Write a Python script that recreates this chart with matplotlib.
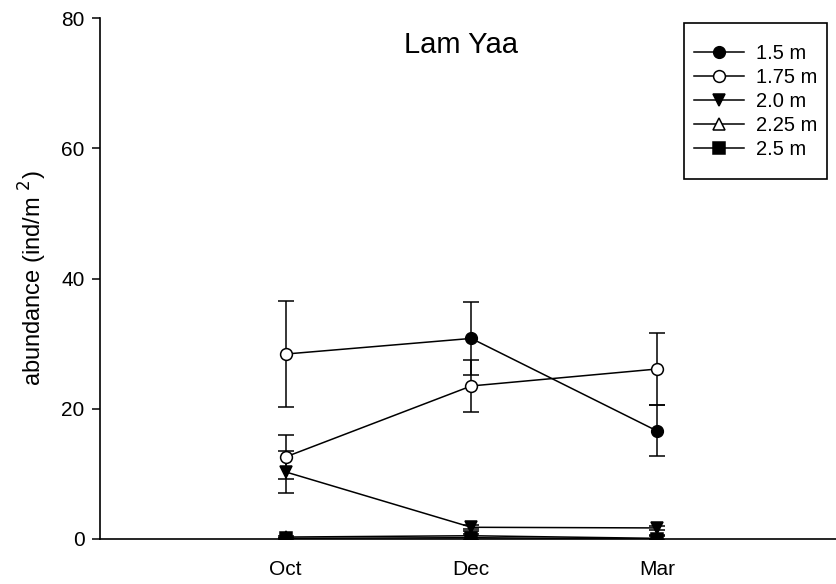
import numpy as np
import matplotlib
matplotlib.use('Agg')
import matplotlib.pyplot as plt
from matplotlib.patches import Rectangle

# sampling months and mean abundance per depth (ind/m2), with error bars
months = ['Oct', 'Dec', 'Mar']
depths = ['1.5 m', '1.75 m', '2.0 m', '2.25 m', '2.5 m']

mean_15 = [28.4, 30.8, 16.6]
err_15 = [8.2, 5.6, 3.9]
mean_175 = [12.6, 23.5, 26.1]
err_175 = [3.4, 4.0, 5.5]
mean_20 = [10.3, 1.8, 1.7]
err_20 = [3.2, 0.3, 0.3]
mean_225 = [0.3, 0.5, 0.1]
err_225 = [0.2, 0.7, 0.3]
mean_25 = [0.1, 0.2, 0.0]
err_25 = [0.1, 0.6, 0.6]


def main():
    plt.rcParams['font.family'] = ['Liberation Sans', 'DejaVu Sans']
    W, H = 837, 584
    fig = plt.figure(figsize=(W / 100, H / 100), dpi=100)
    ax = fig.add_axes([100 / W, 1 - 539 / H, 1 - 100 / W, (539 - 18) / H])

    x = np.arange(1, len(months) + 1)
    series = [
        (mean_15, err_15, 'o', 'black'),
        (mean_175, err_175, 'o', 'white'),
        (mean_20, err_20, 'v', 'black'),
        (mean_225, err_225, '^', 'white'),
        (mean_25, err_25, 's', 'black'),
    ]
    ms = 8.5
    handles = []
    for (m, e, mk, fc), lab in zip(series, depths):
        ax.errorbar(x, m, yerr=e, fmt='none', ecolor='black', elinewidth=1.1,
                    capsize=6, capthick=1.1, zorder=2)
        if lab == '1.5 m':
            # first point is drawn hollow in the original
            ax.plot(x, m, '-', color='black', lw=1.1, zorder=3)
            ax.plot(x[:1], m[:1], 'o', ms=ms, mfc='white', mec='black', mew=1.1, zorder=4)
            ax.plot(x[1:], m[1:], 'o', ms=ms, mfc='black', mec='black', zorder=4)
            h, = ax.plot([], [], '-o', color='black', lw=1.1, ms=ms, mfc='black')
        else:
            h, = ax.plot(x, m, '-' + mk, color='black', lw=1.1, ms=ms, mfc=fc,
                         mec='black', mew=1.1, zorder=3)
        h.set_label(lab)
        handles.append(h)

    ax.set_xlim(0, 3.97)
    ax.set_ylim(0, 80)
    ax.set_yticks([0, 20, 40, 60, 80])
    ax.set_xticks(x)
    ax.set_xticklabels(months)
    ax.tick_params(axis='y', direction='out', length=6, width=1.1, labelsize=15, pad=5)
    ax.tick_params(axis='x', length=0, labelsize=15, pad=15)
    for s in ['top', 'right']:
        ax.spines[s].set_visible(False)
    for s in ['left', 'bottom']:
        ax.spines[s].set_linewidth(1.2)

    ax.set_ylabel('abundance (ind/m $^{2}$)', fontsize=17, labelpad=9)
    fig.text(461 / W, 1 - 45 / H, 'Lam Yaa', ha='center', va='center', fontsize=21)

    # legend box drawn separately to match its padding
    fig.patches.append(Rectangle((684 / W, 1 - 179 / H), 143 / W, 156 / H,
                                 transform=fig.transFigure, fill=False,
                                 edgecolor='black', lw=1.2))
    fig.legend(handles=handles, loc='upper left',
               bbox_to_anchor=(694 / W, 1 - 44 / H), fontsize=14.5,
               frameon=False, handlelength=2.5, handletextpad=0.6,
               labelspacing=0.25, borderpad=0, borderaxespad=0)

    plt.savefig('out.png', dpi=100)


if __name__ == "__main__":
    main()
